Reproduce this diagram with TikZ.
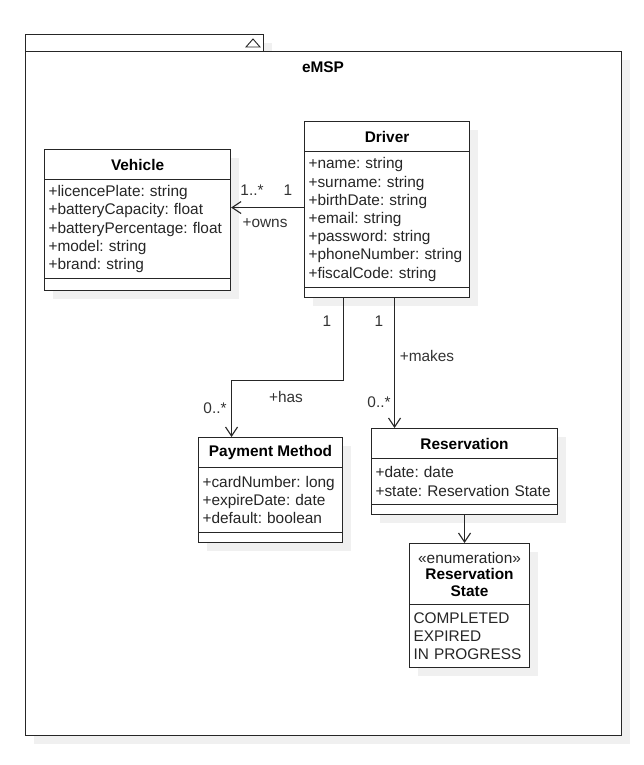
\documentclass[tikz,border=0pt]{standalone}
\usepackage{fontspec}
\setmainfont{Liberation Sans}
\frenchspacing
\usetikzlibrary{arrows.meta,positioning,shadows}

\newcommand{\umlfont}{\fontsize{15.4}{18.2}\selectfont}

\tikzset{
  box/.style={draw=black!85, line width=1.1pt, fill=white, inner sep=0pt, anchor=north west,
    general shadow={fill=black!6, shadow xshift=8pt, shadow yshift=-8pt}},
  title/.style={font=\umlfont\bfseries, text=black},
  attrs/.style={align=left, inner xsep=4pt, text=black!85},
  lbl/.style={text=black!80, inner sep=0pt},
  assoc/.style={draw=black!85, line width=1.1pt,
    -{Straight Barb[length=9pt,width=12pt,line width=1.1pt]}},
}

\begin{document}
\begin{tikzpicture}[x=1pt, y=-1pt, font=\umlfont]
    \useasboundingbox (0,0) rectangle (643,765);
    % package frame
    \node[box, minimum width=238pt, minimum height=17pt] (tab) at (25,34) {};
    \node[box, minimum width=596pt, minimum height=684pt] (pkg) at (25,51) {};
    \draw[black!85, line width=0.9pt] (246,47) -- (260,47) -- (253,39) -- cycle;
    \node[title] (pkgname) at (323,67) {eMSP};

    % Driver
    \node[box, title, minimum width=165pt, minimum height=30pt] (driver) at (304,121) {Driver};
    \node[box, attrs, text width=157pt, minimum height=136pt] (driverattr) at (304,151)
      {+name: string\\+surname: string\\+birthDate: string\\+email: string\\+password: string\\+phoneNumber: string\\+fiscalCode: string};
    \node[box, minimum width=165pt, minimum height=10pt] (drivermeth) at (304,287) {};

    % Vehicle
    \node[box, title, minimum width=186pt, minimum height=30pt] (vehicle) at (44,149) {Vehicle};
    \node[box, attrs, text width=178pt, minimum height=99pt] (vehicleattr) at (44,179)
      {+licencePlate: string\\+batteryCapacity: float\\+batteryPercentage: float\\+model: string\\+brand: string};
    \node[box, minimum width=186pt, minimum height=12pt] (vehiclemeth) at (44,278) {};

    % Payment Method
    \node[box, title, minimum width=144pt, minimum height=30pt] (payhead) at (198,437) {Payment Method};
    \node[box, attrs, text width=136pt, minimum height=65pt] (payattr) at (198,467)
      {+cardNumber: long\\+expireDate: date\\+default: boolean};
    \node[box, minimum width=144pt, minimum height=10pt] (paymeth) at (198,532) {};

    % Reservation
    \node[box, title, minimum width=186pt, minimum height=30pt] (reshead) at (371,428) {Reservation};
    \node[box, attrs, text width=178pt, minimum height=46pt] (resattr) at (371,458)
      {+date: date\\+state: Reservation State};
    \node[box, minimum width=186pt, minimum height=10pt] (resmeth) at (371,504) {};

    % Reservation State
    \node[box, align=center, minimum width=120pt, minimum height=61pt] (enumhead) at (409,543)
      {\textcolor{black!85}{«enumeration»}\\[-1.5pt]\textbf{Reservation}\\[-2pt]\textbf{State}};
    \node[box, attrs, text width=112pt, minimum height=63pt] (enumattr) at (409,604)
      {COMPLETED\\EXPIRED\\IN PROGRESS};

    % associations
    \draw[assoc] ([yshift=12pt]driverattr.west) coordinate (o) -- (o -| vehicleattr.east);
    \node[lbl] (ownsa) at (288,190) {1};
    \node[lbl] (ownsb) at (252,190) {1..*};
    \node[lbl] (owns) at (265,223) {+owns};

    \draw[assoc] ([xshift=-43.5pt]drivermeth.south) -- ++(0,82) -| ([xshift=-39pt]payhead.north);
    \node[lbl] (hasa) at (327,321) {1};
    \node[lbl] (has) at (286,397) {+has};
    \node[lbl] (hasb) at (215,408) {0..*};

    \draw[assoc] ([xshift=7.5pt]drivermeth.south) coordinate (m) -- (m |- reshead.north);
    \node[lbl] (makesa) at (379,321) {1};
    \node[lbl] (makes) at (427,356) {+makes};
    \node[lbl] (makesb) at (379,402) {0..*};

    \draw[assoc] (resmeth.south) -- (resmeth.south |- enumhead.north);
\end{tikzpicture}
\end{document}
